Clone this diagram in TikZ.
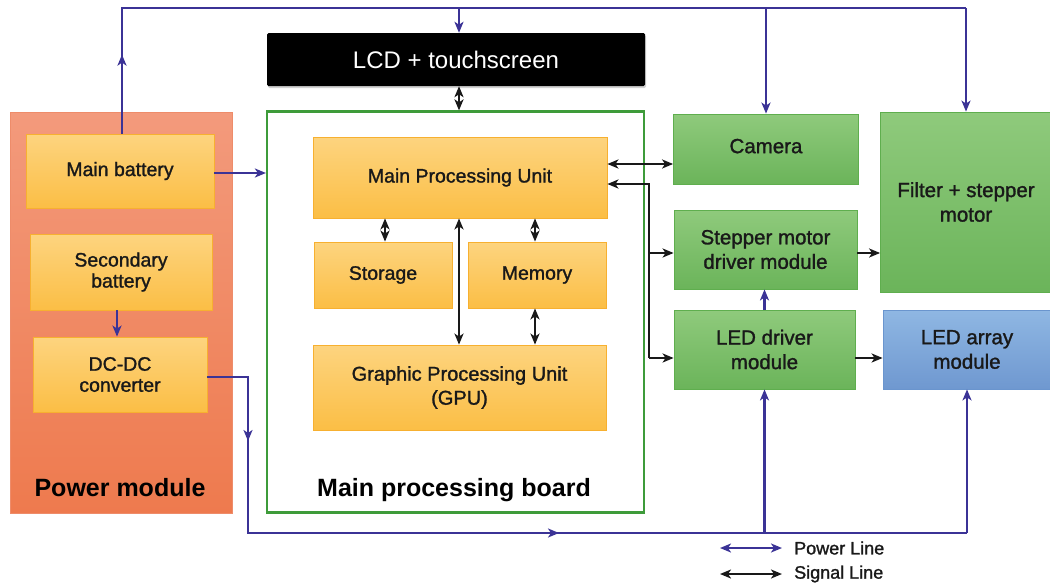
\documentclass[tikz,border=0pt]{standalone}
\usepackage{fontspec}
\setmainfont{Liberation Sans}
\newfontfamily\medfont[FakeBold=1.3]{Liberation Sans}
\usetikzlibrary{arrows.meta,shadows}
\definecolor{pwblue}{HTML}{3B3396}
\definecolor{otop}{HTML}{FDD47F}
\definecolor{obot}{HTML}{FBBE45}
\definecolor{oborder}{HTML}{F7B030}
\definecolor{ptop}{HTML}{F39A7C}
\definecolor{pbot}{HTML}{EE7A4E}
\definecolor{pborder}{HTML}{EE8C6A}
\definecolor{gtop}{HTML}{8FCA7C}
\definecolor{gbot}{HTML}{6BB45A}
\definecolor{gborder}{HTML}{5FAE4E}
\definecolor{btop}{HTML}{8FB7E3}
\definecolor{bbot}{HTML}{6F98D0}
\definecolor{bborder}{HTML}{6A95CE}
\definecolor{boardgreen}{HTML}{3E9B3A}
\begin{document}
\begin{tikzpicture}[x=1pt,y=-1pt,
  >={Stealth[length=11pt,width=9pt,inset=3pt]},
  sz/.style 2 args={minimum width=#1pt, minimum height=#2pt},
  base/.style={rectangle, inner sep=0pt, align=center, text=black!90},
  obox/.style={base, draw=oborder, line width=0.8pt, top color=otop, bottom color=obot,
     font=\medfont\fontsize{19.5}{21}\selectfont},
  gbox/.style={base, draw=gborder, line width=0.8pt, top color=gtop, bottom color=gbot,
     font=\medfont\fontsize{20.5}{24.5}\selectfont},
  bbox/.style={base, draw=bborder, line width=0.8pt, top color=btop, bottom color=bbot,
     font=\medfont\fontsize{20.5}{24.5}\selectfont},
  pmod/.style={base, draw=pborder, line width=0.8pt, top color=ptop, bottom color=pbot},
  boardbox/.style={base, draw=boardgreen, line width=2.2pt, fill=white},
  biglabel/.style={font=\bfseries\fontsize{25}{28}\selectfont, text=black, inner sep=0pt},
  pw/.style={draw=pwblue, line width=2.4pt},
  sg/.style={draw=black!90, line width=2.4pt},
  legtext/.style={font=\medfont\fontsize{18}{20}\selectfont, text=black!90, inner sep=0pt, anchor=west}]
\fill[white] (0,0) rectangle (1050,584);
\useasboundingbox (0,0) rectangle (1050,584);

% power module
\node[pmod, sz={222}{401}] (pm) at (121,312.5) {};
\node[biglabel] (pml) at (120,488) {Power module};
\node[obox, sz={188}{74}] (mb) at (120,171) {\raisebox{3pt}{Main battery}};
\node[obox, sz={182}{76}] (sb) at (121,272) {Secondary\\battery};
\node[obox, sz={174}{75}] (dc) at (120,374.5) {DC-DC\\converter};

% main board
\node[boardbox, sz={377}{401}] (board) at (455.5,312) {};
\node[biglabel] (bl) at (454,490) {Main processing board};
\node[base, sz={378}{53}, fill=black, text=white, rounded corners=1.5pt,
      drop shadow={opacity=0.35, shadow xshift=1pt, shadow yshift=-2pt},
      font=\fontsize{24}{26}\selectfont] (lcd) at (456,59.5) {LCD + touchscreen};
\node[obox, sz={294}{81}] (mpu) at (460,177.5) {\raisebox{4pt}{Main Processing Unit}};
\node[obox, sz={138}{66}] (sto) at (383,275) {Storage};
\node[obox, sz={138}{66}] (mem) at (537,275) {Memory};
\node[obox, sz={293}{85}, font=\medfont\fontsize{20}{24}\selectfont] (gpu) at (459.5,387.5) {Graphic Processing Unit\\(GPU)};

% right modules
\node[gbox, sz={185}{70}] (cam) at (766,149) {\raisebox{6pt}{Camera}};
\node[gbox, sz={183}{79}] (smd) at (765.5,249.5) {Stepper motor\\driver module};
\node[gbox, sz={181}{79}] (led) at (764.5,349.5) {LED driver\\module};
\node[gbox, sz={171}{180}] (fil) at (966,202) {Filter + stepper\\motor};
\node[bbox, sz={168}{79}] (arr) at (967,349.5) {LED array\\module};

% power bus (top)
\coordinate (tl) at (122,8);
\coordinate (tr) at (966,8);
\draw[pw] (mb.north -| tl) -- (tl) -- (tr);
\draw[pw,->] (mb.north -| tl) -- ++(0,-79);
\coordinate (tlcd) at (459,8);
\draw[pw,->] (tlcd) -- (tlcd |- lcd.north);
\draw[pw,->] (cam.north |- tl) -- (cam.north);
\draw[pw,->] (tr) -- (fil.north);

% main battery -> board
\draw[pw,->] (mb.east |- 0,173) -- (board.west |- 0,173);
% secondary -> dc-dc
\coordinate (sbx) at (117,0);
\draw[pw,->] (sb.south -| sbx) -- (dc.north -| sbx);

% power bus (bottom)
\coordinate (bl0) at (248,533);
\coordinate (br0) at (967,533);
\draw[pw] (dc.east |- 0,377) -| (bl0) -- (br0);
\draw[pw,->] (bl0 |- 0,377) -- ++(0,64);
\draw[pw,->] (bl0) -- ++(311,0);
\draw[pw,->] (led.south |- bl0) -- (led.south);
\draw[pw,->] (br0) -- (arr.south -| br0);
\draw[pw,->] (led.north) -- (led.north |- smd.south);

% signal lines
\draw[sg,<->] (lcd.south -| tlcd) -- (board.north -| tlcd);
\draw[sg,<->] (mpu.south -| 385,0) -- (sto.north -| 385,0);
\draw[sg,<->] (mpu.south -| 535,0) -- (mem.north -| 535,0);
\draw[sg,<->] (mpu.south -| 459,0) -- (gpu.north -| 459,0);
\draw[sg,<->] (mem.south -| 535,0) -- (gpu.north -| 535,0);
\draw[sg,<->] (mpu.east |- 0,164) -- (cam.west |- 0,164);
\coordinate (sj) at (649,184);
\draw[sg,<-] (mpu.east |- sj) -- (sj) -- (sj |- 0,358);
\draw[sg,->] (sj |- 0,253) -- (smd.west |- 0,253);
\draw[sg,->] (sj |- 0,358) -- (led.west |- 0,358);
\draw[sg,->] (smd.east |- 0,253) -- (fil.west |- 0,253);
\draw[sg,->] (led.east |- 0,358) -- (arr.west |- 0,358);

% legend
\node[legtext] (lpw) at (794,548) {Power Line};
\node[legtext] (lsg) at (794,574) {Signal Line};
\draw[pw,<->] ([xshift=-74pt]lpw.west) -- ([xshift=-12pt]lpw.west);
\draw[sg,<->] ([xshift=-74pt]lsg.west) -- ([xshift=-12pt]lsg.west);
\end{tikzpicture}
\end{document}
